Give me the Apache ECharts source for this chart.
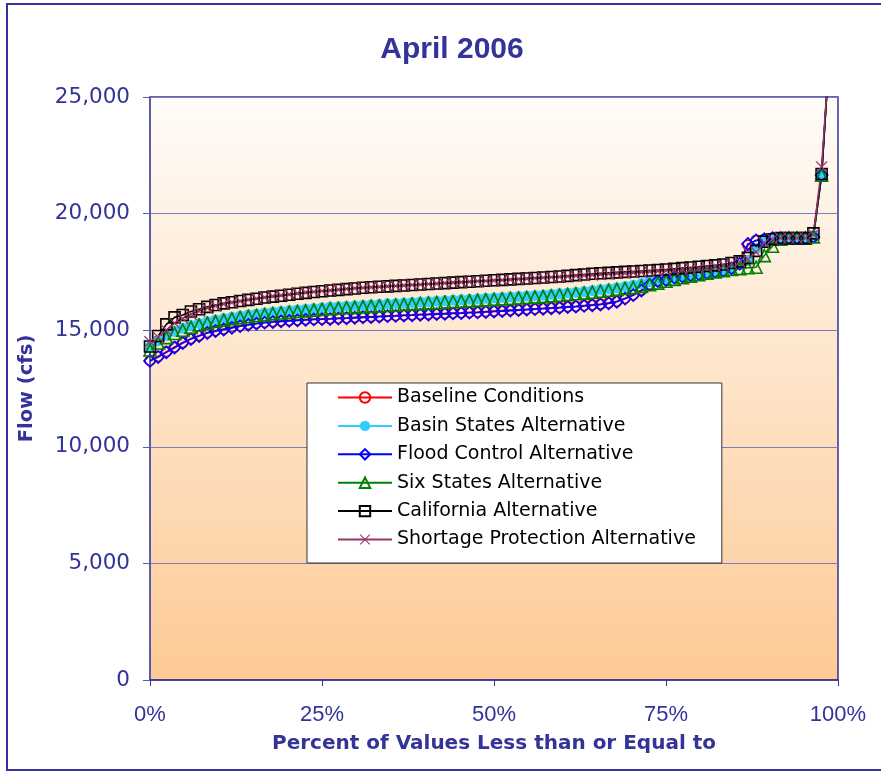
<!DOCTYPE html>
<html>
<head>
<meta charset="utf-8">
<script src="https://cdn.jsdelivr.net/npm/echarts@6/dist/echarts.min.js"></script>
<style>
  html, body { margin: 0; padding: 0; background: #fff; }
  #chart { width: 881px; height: 773px; }
</style>
</head>
<body>
<div id="chart"></div>
<script>
// April 2006 flow, sorted traces (percent of values less than or equal to)
var seriesNames = ['Baseline Conditions', 'Basin States Alternative', 'Flood Control Alternative',
  'Six States Alternative', 'California Alternative', 'Shortage Protection Alternative']

var baseline = [
  13700, 13880, 14080, 14280, 14470, 14640, 14770, 14900, 14980, 15050,
  15120, 15190, 15250, 15300, 15340, 15370, 15400, 15420, 15440, 15460,
  15480, 15490, 15500, 15520, 15530, 15550, 15570, 15580, 15600, 15620,
  15630, 15650, 15660, 15680, 15690, 15710, 15720, 15740, 15750, 15770,
  15780, 15800, 15820, 15840, 15860, 15880, 15900, 15920, 15940, 15960,
  15980, 16010, 16030, 16060, 16090, 16120, 16170, 16240, 16370, 16520,
  16720, 16970, 17120, 17170, 17270, 17320, 17370, 17420, 17470, 17520,
  17570, 17670, 17870, 18650, 18850, 18900, 18950, 18950, 18950, 18950,
  18950, 19000, 21700, 27200, 33000
]
var basinStates = [
  14300, 14550, 14780, 14950, 15080, 15200, 15290, 15370, 15440, 15500,
  15560, 15610, 15660, 15700, 15740, 15780, 15810, 15840, 15870, 15900,
  15930, 15960, 15990, 16010, 16030, 16050, 16070, 16090, 16110, 16130,
  16150, 16170, 16190, 16210, 16230, 16250, 16270, 16290, 16310, 16330,
  16350, 16370, 16390, 16410, 16430, 16450, 16470, 16490, 16510, 16540,
  16570, 16600, 16630, 16660, 16700, 16740, 16780, 16820, 16870, 16930,
  17000, 17080, 17150, 17200, 17260, 17310, 17360, 17410, 17460, 17510,
  17570, 17660, 17800, 18000, 18500, 18850, 18900, 18950, 18950, 18950,
  18950, 19050, 21700, 27200, 33000
]
var floodControl = [
  13680, 13850, 14050, 14250, 14450, 14620, 14750, 14880, 14960, 15030,
  15100, 15170, 15230, 15280, 15320, 15350, 15380, 15400, 15420, 15440,
  15460, 15470, 15480, 15500, 15510, 15530, 15550, 15560, 15580, 15600,
  15610, 15630, 15640, 15660, 15670, 15690, 15700, 15720, 15730, 15750,
  15760, 15780, 15800, 15820, 15840, 15860, 15880, 15900, 15920, 15940,
  15960, 15990, 16010, 16040, 16070, 16100, 16150, 16220, 16350, 16500,
  16700, 16950, 17100, 17150, 17250, 17300, 17350, 17400, 17450, 17500,
  17550, 17650, 17850, 18700, 18850, 18900, 18950, 18950, 18950, 18950,
  18950, 19000, 21650, 27200, 33000
]
var sixStates = [
  14150, 14450, 14680, 14860, 15000, 15120, 15220, 15300, 15370, 15430,
  15490, 15540, 15590, 15630, 15670, 15710, 15740, 15770, 15800, 15830,
  15860, 15890, 15920, 15940, 15960, 15980, 16000, 16020, 16040, 16060,
  16080, 16100, 16120, 16140, 16160, 16180, 16200, 16220, 16240, 16260,
  16280, 16300, 16320, 16340, 16360, 16380, 16400, 16420, 16440, 16470,
  16500, 16530, 16560, 16590, 16630, 16670, 16710, 16750, 16790, 16830,
  16880, 16950, 17020, 17100, 17180, 17250, 17320, 17380, 17440, 17500,
  17550, 17600, 17640, 17680, 17700, 18200, 18600, 18900, 18950, 18950,
  18950, 19000, 21650, 27200, 33000
]
var california = [
  14300, 14750, 15250, 15550, 15650, 15800, 15900, 16000, 16080, 16150,
  16200, 16250, 16300, 16350, 16400, 16440, 16480, 16520, 16560, 16600,
  16640, 16670, 16700, 16730, 16760, 16790, 16820, 16840, 16860, 16880,
  16900, 16920, 16940, 16960, 16980, 17000, 17020, 17040, 17060, 17080,
  17100, 17120, 17140, 17160, 17180, 17200, 17220, 17240, 17260, 17280,
  17300, 17330, 17360, 17390, 17420, 17440, 17460, 17480, 17500, 17520,
  17540, 17560, 17580, 17600, 17630, 17660, 17690, 17720, 17750, 17780,
  17820, 17880, 17950, 18100, 18400, 18800, 18900, 18950, 18950, 18950,
  18950, 19150, 21700, 27200, 33000
]
var shortageProtection = [
  14500, 14700, 15000, 15300, 15500, 15680, 15820, 15940, 16040, 16120,
  16190, 16250, 16310, 16360, 16410, 16460, 16500, 16540, 16580, 16620,
  16650, 16680, 16710, 16740, 16770, 16800, 16820, 16840, 16860, 16880,
  16900, 16920, 16940, 16960, 16980, 17000, 17020, 17040, 17060, 17080,
  17100, 17110, 17130, 17150, 17170, 17190, 17210, 17230, 17250, 17270,
  17290, 17310, 17330, 17350, 17370, 17390, 17410, 17430, 17450, 17470,
  17490, 17510, 17530, 17550, 17570, 17600, 17630, 17660, 17700, 17740,
  17790, 17850, 17930, 18050, 18350, 18750, 18900, 18950, 18950, 18950,
  18950, 19100, 22000, 27200, 33000
]

var xTicks = [0, 25, 50, 75, 100]
var yTicks = [0, 5000, 10000, 15000, 20000, 25000]

var navy = '#333399'
var crossPath = 'path://M0,0.7 L0.7,0 L5,4.3 L9.3,0 L10,0.7 L5.7,5 L10,9.3 L9.3,10 L5,5.7 L0.7,10 L0,9.3 L4.3,5 Z'

// plotting position of each sorted trace, 0..100 %
function withPercent (vals) {
  var n = vals.length
  return vals.map(function (v, i) { return [i * 100 / (n - 1), v] })
}

function mkSeries (name, vals, color, symbol, size, filled) {
  return {
    name: name,
    type: 'line',
    data: withPercent(vals),
    symbol: symbol,
    symbolSize: size,
    showAllSymbol: true,
    clip: true,
    lineStyle: {color: color, width: 1.6},
    itemStyle: {
      color: filled ? color : 'rgba(0,0,0,0)',
      borderColor: color,
      borderWidth: filled ? 0 : 1.6
    },
    emphasis: {disabled: true}
  }
}

var chart = echarts.init(document.getElementById('chart'))
chart.setOption({
  animation: false,
  title: {
    text: 'April 2006',
    left: 447,
    top: 30,
    textAlign: 'center',
    textStyle: {color: navy, fontSize: 30, fontWeight: 'bold', fontFamily: 'Liberation Sans'}
  },
  graphic: [{
    type: 'rect',
    shape: {x: 7, y: 4, width: 900, height: 766},
    style: {fill: 'none', stroke: navy, lineWidth: 2},
    silent: true
  }],
  grid: {
    left: 150,
    top: 97,
    right: 43,
    bottom: 93,
    show: true,
    borderColor: navy,
    borderWidth: 1.5,
    backgroundColor: new echarts.graphic.LinearGradient(0, 0, 0, 1, [
      {offset: 0, color: '#fffcf9'},
      {offset: 1, color: '#fdca95'}
    ])
  },
  legend: {
    orient: 'vertical',
    left: 307,
    top: 383,
    data: seriesNames,
    backgroundColor: '#ffffff',
    borderColor: '#333333',
    borderWidth: 1,
    padding: [5, 26, 14, 30],
    itemWidth: 54,
    itemHeight: 13,
    itemGap: 9.4,
    textStyle: {fontFamily: 'DejaVu Sans', fontSize: 19, color: '#000'}
  },
  xAxis: {
    type: 'value',
    min: 0,
    max: 100,
    interval: 25,
    name: 'Percent of Values Less than or Equal to',
    nameLocation: 'middle',
    nameGap: 54,
    nameTextStyle: {color: navy, fontSize: 20, fontWeight: 'bold', fontFamily: 'DejaVu Sans'},
    axisLine: {lineStyle: {color: navy, width: 1.5}},
    axisTick: {show: true, inside: false, length: 6, lineStyle: {color: navy}},
    axisLabel: {
      color: navy,
      fontSize: 22,
      fontFamily: 'Liberation Sans',
      margin: 24,
      formatter: function (v) { return xTicks.indexOf(v) >= 0 ? v + '%' : '' }
    },
    splitLine: {show: false}
  },
  yAxis: {
    type: 'value',
    min: 0,
    max: 25000,
    interval: 5000,
    name: 'Flow (cfs)',
    nameLocation: 'middle',
    nameRotate: 90,
    nameGap: 113,
    nameTextStyle: {color: navy, fontSize: 19.5, fontWeight: 'bold', fontFamily: 'DejaVu Sans'},
    axisLine: {show: true, lineStyle: {color: '#5a5aa8', width: 1.5}},
    axisTick: {show: true, inside: false, length: 7, lineStyle: {color: '#5a5aa8'}},
    axisLabel: {
      color: navy,
      fontSize: 21.5,
      fontFamily: 'DejaVu Sans',
      margin: 20,
      formatter: function (v) { return yTicks.indexOf(v) >= 0 ? v.toLocaleString('en-US') : '' }
    },
    splitLine: {show: true, lineStyle: {color: '#7b7bbb', width: 1}}
  },
  series: [
    mkSeries(seriesNames[0], baseline, '#ff0000', 'circle', 10, false),
    mkSeries(seriesNames[1], basinStates, '#33ccff', 'circle', 11, true),
    mkSeries(seriesNames[2], floodControl, '#0000ff', 'diamond', 12, false),
    mkSeries(seriesNames[3], sixStates, '#008000', 'triangle', 12, false),
    mkSeries(seriesNames[4], california, '#000000', 'rect', 11, false),
    mkSeries(seriesNames[5], shortageProtection, '#993366', crossPath, 12, true)
  ]
})
</script>
</body>
</html>
